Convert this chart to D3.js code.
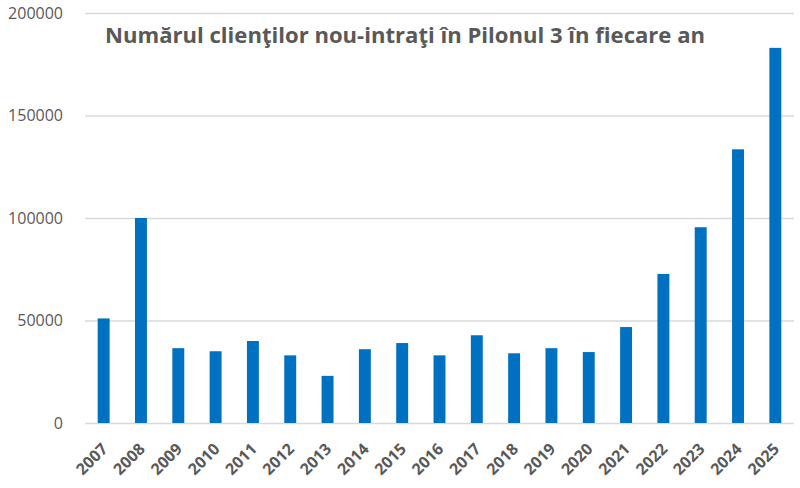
<!DOCTYPE html>
<html>
<head>
<meta charset="utf-8">
<script src="https://cdn.jsdelivr.net/npm/d3@7"></script>
<style>
  body { margin: 0; background: #fff; }
  svg { display: block; }
</style>
</head>
<body>
<div id="chart"></div>
<script>
var w = 800;
var h = 488;

var years = ['2007','2008','2009','2010','2011','2012','2013','2014','2015','2016',
             '2017','2018','2019','2020','2021','2022','2023','2024','2025'];
var clients = [51000, 100000, 36500, 35000, 40000, 33000, 23000, 36000, 39000, 33000,
               42800, 34000, 36500, 34600, 46800, 72700, 95500, 133500, 183000];
var yTicks = [0, 50000, 100000, 150000, 200000];
var title = 'Numărul clienţilor nou-intraţi în Pilonul 3 în fiecare an';

var plotLeft = 85, plotRight = 794, plotTop = 13, plotBottom = 423;

var xScale = d3.scaleBand()
               .domain(years)
               .range([plotLeft, plotRight])
               .paddingInner(0.68)
               .paddingOuter(0.34);

var yScale = d3.scaleLinear()
               .domain([0, 200000])
               .range([plotBottom, plotTop]);

var svg = d3.select("#chart")
            .append("svg")
            .attr("width", w)
            .attr("height", h);

// gridlines + y labels
var yAxis = d3.axisLeft(yScale)
              .tickValues(yTicks)
              .tickSize(-(plotRight - plotLeft))
              .tickPadding(22)
              .tickFormat(d3.format("d"));

var gy = svg.append("g")
            .attr("transform", "translate(" + plotLeft + ",0)")
            .call(yAxis);
gy.select(".domain").remove();
gy.selectAll("line").attr("stroke", "#d9d9d9").attr("stroke-width", 1.3);
gy.selectAll("text")
  .attr("fill", "#595959")
  .style("font-family", "Open Sans, sans-serif")
  .style("font-size", "16px");

// bars
svg.selectAll("rect.bar")
   .data(clients)
   .enter()
   .append("rect")
   .attr("class", "bar")
   .attr("x", function(d, i) { return xScale(years[i]); })
   .attr("y", function(d) { return yScale(d); })
   .attr("width", xScale.bandwidth())
   .attr("height", function(d) { return plotBottom - yScale(d); })
   .attr("fill", "#0070c0");

// x axis labels
var xAxis = d3.axisBottom(xScale).tickSize(0).tickPadding(0);
var gx = svg.append("g")
            .attr("transform", "translate(0," + plotBottom + ")")
            .call(xAxis);
gx.select(".domain").remove();
gx.selectAll("text")
  .attr("fill", "#595959")
  .style("font-family", "Open Sans, sans-serif")
  .style("font-size", "16px")
  .style("font-weight", "bold")
  .attr("text-anchor", "end")
  .attr("dy", null)
  .attr("y", 0)
  .attr("transform", "translate(5,27) rotate(-45)");

// title
svg.append("text")
   .attr("x", 105)
   .attr("y", 43)
   .attr("fill", "#595959")
   .style("font-family", "Open Sans, sans-serif")
   .style("font-size", "21px")
   .style("font-weight", "bold")
   .attr("textLength", 600)
   .attr("lengthAdjust", "spacingAndGlyphs")
   .text(title);
</script>
</body>
</html>
